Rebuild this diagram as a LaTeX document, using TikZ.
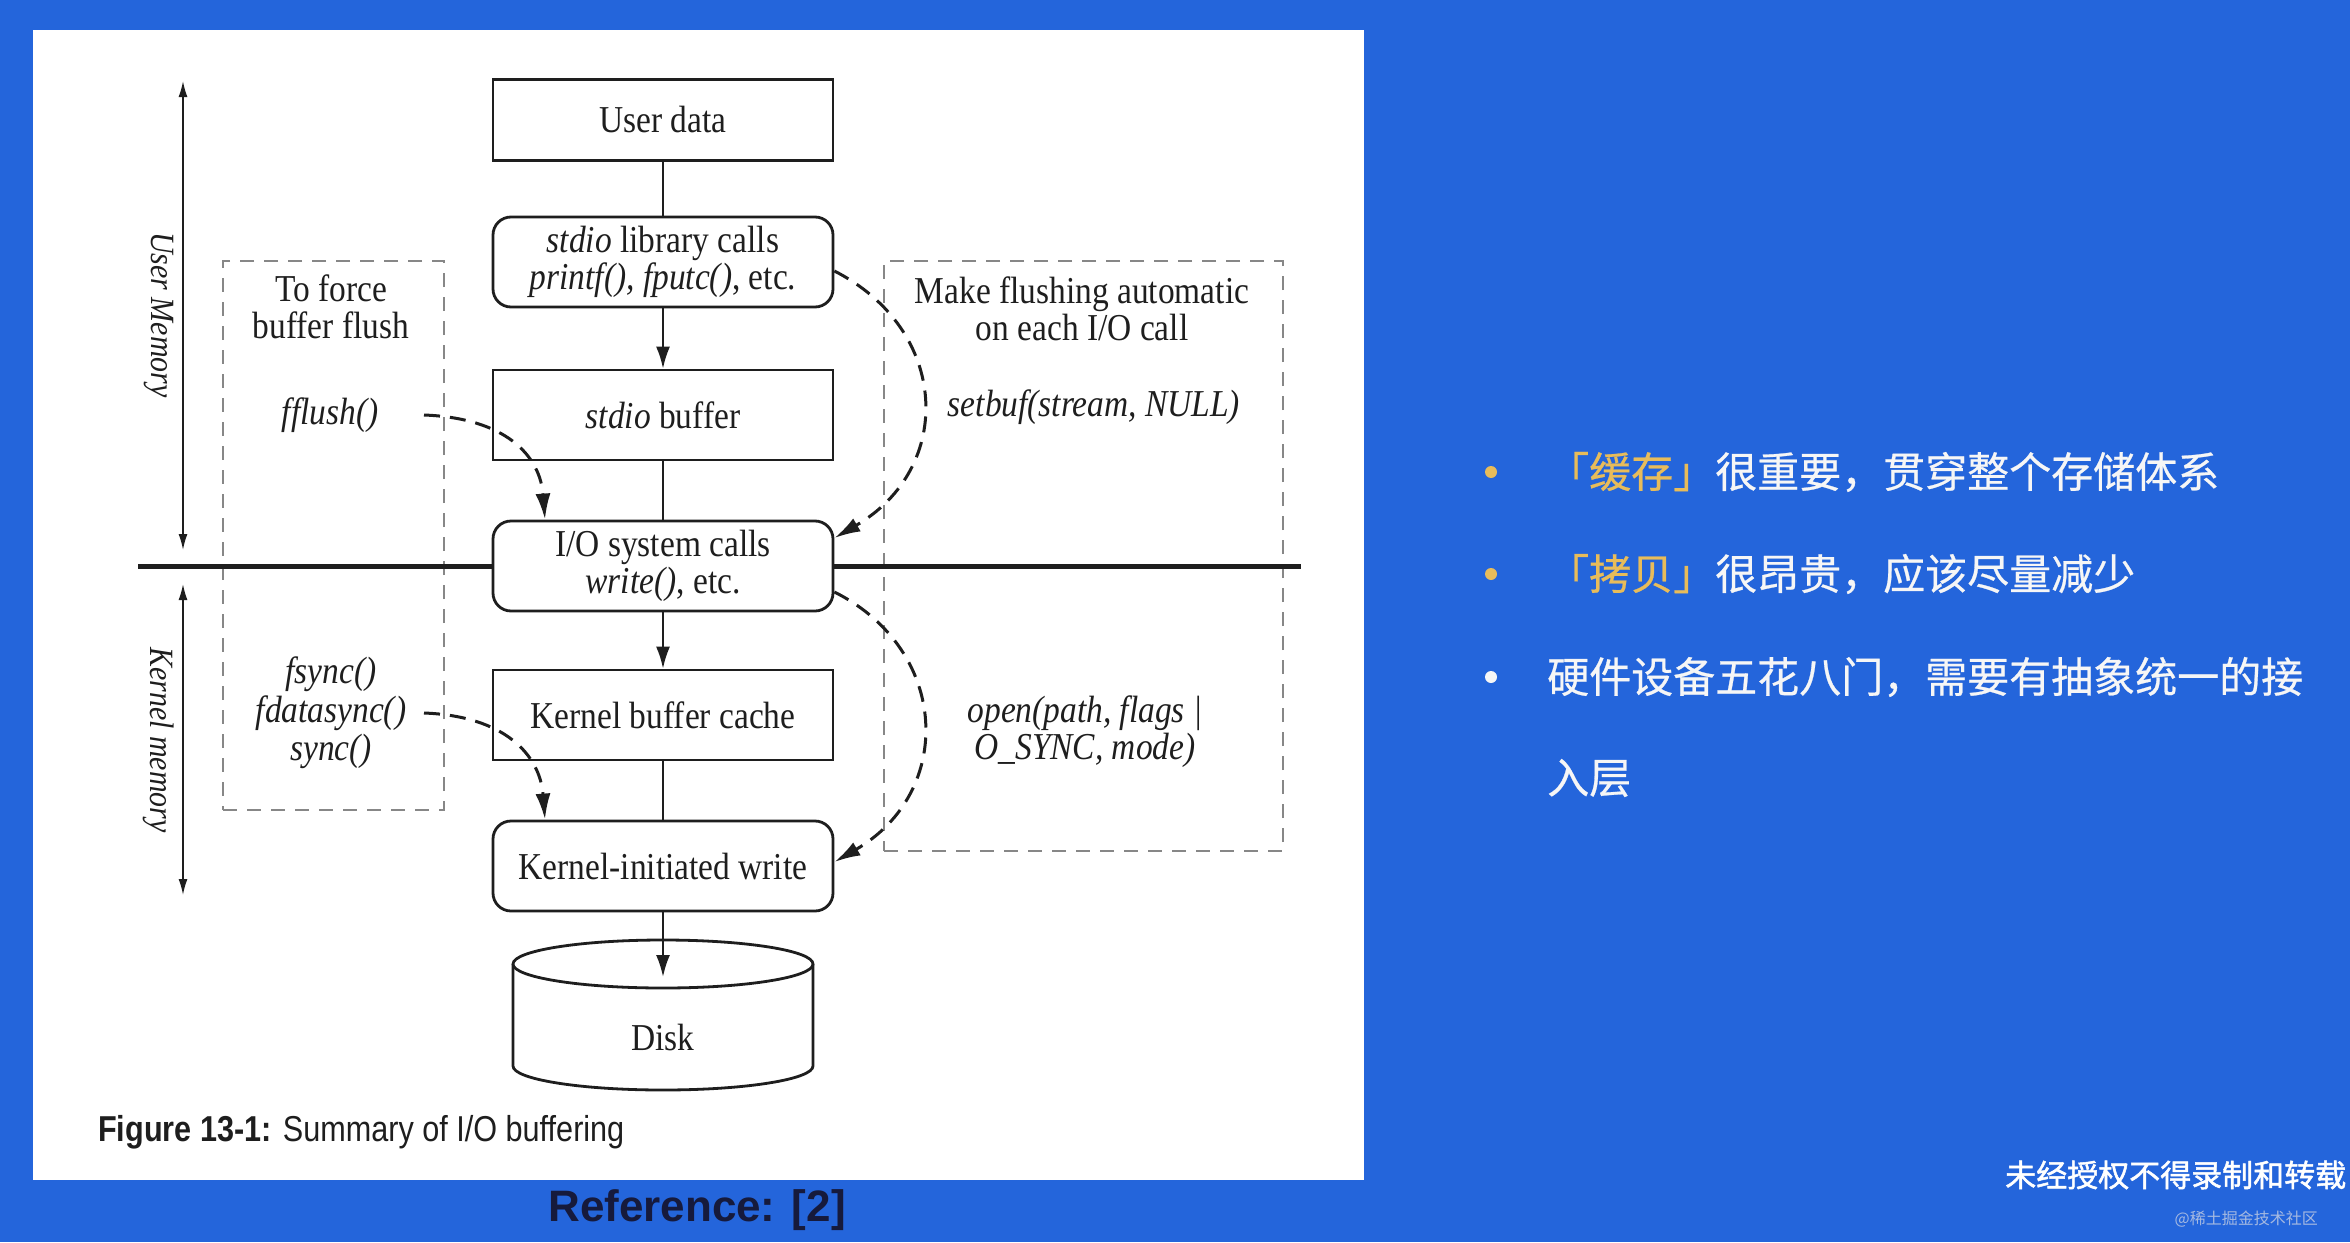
\documentclass[tikz,border=0pt]{standalone}
\usepackage{fontspec}
\newfontfamily\figfont[FakeStretch=0.88]{Liberation Serif}
\newfontfamily\capfont[FakeStretch=0.85]{Liberation Sans}
\newfontfamily\reffont{Liberation Sans}
\newfontfamily\cjk[FakeBold=0.6]{Noto Sans CJK SC}
\newfontfamily\cjkwm[FakeBold=1.6]{Noto Sans CJK SC}
\newfontfamily\cjklight{Noto Sans CJK SC}
\usetikzlibrary{arrows.meta}
\definecolor{bgblue}{RGB}{36,101,219}
\definecolor{gold}{RGB}{232,188,90}
\definecolor{offwhite}{RGB}{246,246,246}
\definecolor{navy}{RGB}{22,26,60}
\definecolor{dashgrey}{RGB}{135,135,135}
\definecolor{ink}{RGB}{30,30,30}
\definecolor{wmgrey}{RGB}{165,185,225}
\tikzset{
  box/.style={draw=ink, line width=2.8pt, fill=white, minimum width=340pt, minimum height=90pt,
    inner sep=0pt, font=\figfont\fontsize{38}{37}\selectfont, align=center, text=ink},
  rbox/.style={box, rounded corners=18pt},
  lab/.style={font=\figfont\fontsize{38}{38.5}\selectfont, align=center, text=ink, inner sep=0pt},
  memlab/.style={font=\figfont\itshape\fontsize{34}{34}\selectfont, text=ink, inner sep=0pt},
  flow/.style={line width=2.2pt, draw=ink},
  flowarrow/.style={flow, -{Latex[length=22pt,width=14pt]}},
  dasharrow/.style={draw=ink, line width=3pt, dash pattern=on 16pt off 10pt, -{Latex[length=26pt,width=15pt]}},
  dashbox/.style={draw=dashgrey, line width=2.2pt, dash pattern=on 14pt off 10pt, inner sep=0pt},
  memarrow/.style={draw=ink, line width=1.6pt, {Latex[length=16pt,width=9pt]}-{Latex[length=16pt,width=9pt]}},
  divider/.style={draw=ink, line width=5pt},
  diskline/.style={draw=ink, line width=2.8pt, fill=white},
  dot/.style={circle, inner sep=0pt, minimum size=12pt},
  cjktext/.style={font=\cjk\fontsize{42}{42}\selectfont, text=offwhite, inner sep=0pt, anchor=west},
}
\begin{document}
\begin{tikzpicture}[x=1pt,y=-1pt]
\useasboundingbox (0,0) rectangle (2350,1242);
\fill[bgblue] (0,0) rectangle (2350,1242);
\fill[white] (33,30) rectangle (1364,1180);

% dashed groups
\node[dashbox, minimum width=221pt, minimum height=549pt] (leftgrp) at (333.5,535.5) {};
\node[dashbox, minimum width=399pt, minimum height=590pt] (rightgrp) at (1083.5,556) {};

% divider
\coordinate (divL) at (138,566);
\coordinate (divR) at (1301,566);
\draw[divider] (divL) -- (divR);

% memory arrows
\coordinate (umtop) at (183,81);
\coordinate (umbot) at (183,550);
\coordinate (kmtop) at (183,584);
\coordinate (kmbot) at (183,895);
\draw[memarrow] (umtop) -- (umbot);
\draw[memarrow] (kmtop) -- (kmbot);
\node[memlab, rotate=-90] (umlab) at (159,315) {User Memory};
\node[memlab, rotate=-90] (kmlab) at (159,740) {Kernel memory};

% disk
\draw[diskline] (513,964) -- (513,1066) arc[start angle=180, end angle=360, x radius=150pt, y radius=24pt] -- (813,964);
\draw[diskline] (663,964) ellipse [x radius=150pt, y radius=24pt];
\node[lab] (disk) at (663,1037) {Disk};
\coordinate (disktip) at (663,977);

% main boxes
\node[box, minimum height=81pt] (user) at (663,120) {User data};
\node[rbox] (lib) at (663,262) {\textit{stdio} library calls\\\textit{printf(), fputc()}, etc.};
\node[box] (buf) at (663,415) {\textit{stdio} buffer};
\node[rbox] (io) at (663,566) {I/O system calls\\\textit{write()}, etc.};
\node[box] (kbc) at (663,715) {Kernel buffer cache};
\node[rbox] (kiw) at (663,866) {Kernel-initiated write};

% solid flow
\draw[flow] (user) -- (lib);
\draw[flowarrow] (lib) -- (buf);
\draw[flow] (buf) -- (io);
\draw[flowarrow] (io) -- (kbc);
\draw[flow] (kbc) -- (kiw);
\draw[flowarrow] (kiw) -- (disktip);

% labels
\node[lab, font=\figfont\fontsize{38}{37}\selectfont] (force) at (331,307) {To force\\buffer flush};
\node[lab] (fflush) at (330,415) {\textit{fflush()}};
\node[lab] (fsync) at (331,713) {\textit{fsync()}\\\textit{fdatasync()}\\\textit{sync()}};
\node[lab, font=\figfont\fontsize{38}{37}\selectfont] (auto) at (1082,309) {Make flushing automatic\\on each I/O call};
\node[lab] (setbuf) at (1094,407) {\textit{setbuf(stream, NULL)}};
\node[lab, font=\figfont\fontsize{38}{37}\selectfont] (open) at (1085,732) {\textit{open(path, flags |}\\\textit{O\_SYNC, mode)}};

% dashed arrows
\coordinate (ffstart) at (424,415);
\coordinate (fdstart) at (424,713);
\draw[dasharrow] (ffstart) .. controls (505,418) and (540,455) .. ([xshift=-118pt]io.north);
\draw[dasharrow] (fdstart) .. controls (505,716) and (540,755) .. ([xshift=-118pt]kiw.north);
\draw[dasharrow] ([yshift=-9pt]lib.east) .. controls (950,330) and (955,468) .. ([yshift=28pt]io.east);
\draw[dasharrow] ([yshift=-26pt]io.east) .. controls (950,650) and (955,792) .. ([yshift=4pt]kiw.east);

% caption & reference
\node[anchor=west, inner sep=0pt, font=\capfont\fontsize{36}{36}\selectfont, text=ink] (cap) at (98,1132) {\textbf{Figure 13-1:} Summary of I/O buffering};
\node[inner sep=0pt, font=\reffont\bfseries\fontsize{44}{44}\selectfont, text=navy] (ref) at (697,1210) {Reference: [2]};

% bullets
\node[dot, fill=gold] (b1) at (1491,472) {};
\node[dot, fill=gold] (b2) at (1491,574) {};
\node[dot, fill=offwhite] (b3) at (1491,677) {};
\node[cjktext] (t1) at (1547,472) {\textcolor{gold}{「缓存」}很重要，贯穿整个存储体系};
\node[cjktext] (t2) at (1547,574) {\textcolor{gold}{「拷贝」}很昂贵，应该尽量减少};
\node[cjktext] (t3) at (1547,677) {硬件设备五花八门，需要有抽象统一的接};
\node[cjktext] (t4) at (1547,778) {入层};

% watermark
\node[anchor=west, inner sep=0pt, font=\cjkwm\fontsize{31}{31}\selectfont, text=white] (wm) at (2005,1175) {未经授权不得录制和转载};
\node[anchor=east, inner sep=0pt, font=\cjklight\fontsize{16}{16}\selectfont, text=wmgrey] (wm2) at (2318,1219) {@稀土掘金技术社区};
\end{tikzpicture}
\end{document}
